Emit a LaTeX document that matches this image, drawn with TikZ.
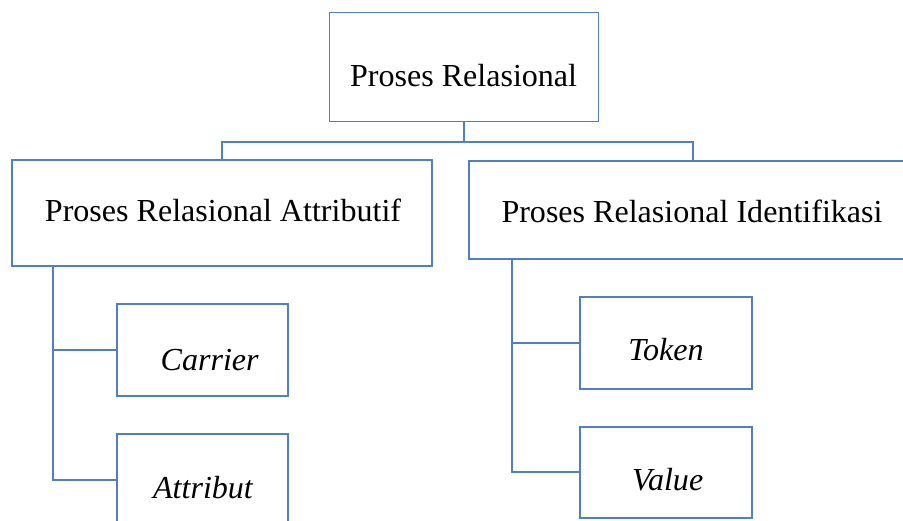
\documentclass[tikz,border=0pt]{standalone}
\usepackage{fontspec}
\setmainfont{Liberation Serif}
\usepackage{xcolor}
\definecolor{boxblue}{RGB}{79,129,189}
\tikzset{%
    procbox/.style={draw=boxblue, line width=1.4pt, fill=white, inner sep=0pt},
    proclabel/.style={anchor=base, inner sep=0pt, font=\fontsize{22.8pt}{27pt}\selectfont},
    link/.style={draw=boxblue, line width=1.4pt}
}

\begin{document}
\begin{tikzpicture}
	\useasboundingbox (0,0) rectangle (22.575,-13.025);
	% boxes
	\node[procbox, minimum width=6.725cm, minimum height=2.725cm] (rel) at (11.6,-1.675) {};
	\node[procbox, minimum width=10.51cm, minimum height=2.635cm] (attr) at (5.556,-5.325) {};
	\node[procbox, minimum width=11.2cm, minimum height=2.45cm] (ident) at (17.32,-5.25) {};
	\node[procbox, minimum width=4.275cm, minimum height=2.3cm] (carrier) at (5.0625,-8.75) {};
	\node[procbox, minimum width=4.275cm, minimum height=2.3cm] (attribut) at (5.0625,-12.0) {};
	\node[procbox, minimum width=4.2875cm, minimum height=2.3cm] (token) at (16.644,-8.575) {};
	\node[procbox, minimum width=4.2875cm, minimum height=2.28cm] (value) at (16.644,-11.81) {};
	% texts
	\node[proclabel] (reltxt) at (11.59,-2.175) {Proses Relasional};
	\node[proclabel] (attrtxt) at (5.575,-5.5425) {Proses Relasional Attributif};
	\node[proclabel] (identtxt) at (17.3,-5.5675) {Proses Relasional Identifikasi};
	\node[proclabel] (carriertxt) at (5.2425,-9.25) {\itshape Carrier};
	\node[proclabel] (attributtxt) at (5.075,-12.46) {\itshape Attribut};
	\node[proclabel] (tokentxt) at (16.65,-9.0) {\itshape Token};
	\node[proclabel] (valuetxt) at (16.69,-12.25) {\itshape Value};
	% connectors
	\coordinate (split) at (11.6,-3.55);
	\draw[link] (rel.south) -- (split) -| (attr.north);
	\draw[link] (split) -| (ident.north);
	\draw[link] ([xshift=1.05cm]attr.south west) |- (carrier.west);
	\draw[link] ([xshift=1.05cm]attr.south west) |- (attribut.west);
	\draw[link] ([xshift=1.1cm]ident.south west) |- (token.west);
	\draw[link] ([xshift=1.1cm]ident.south west) |- (value.west);
\end{tikzpicture}
\end{document}
